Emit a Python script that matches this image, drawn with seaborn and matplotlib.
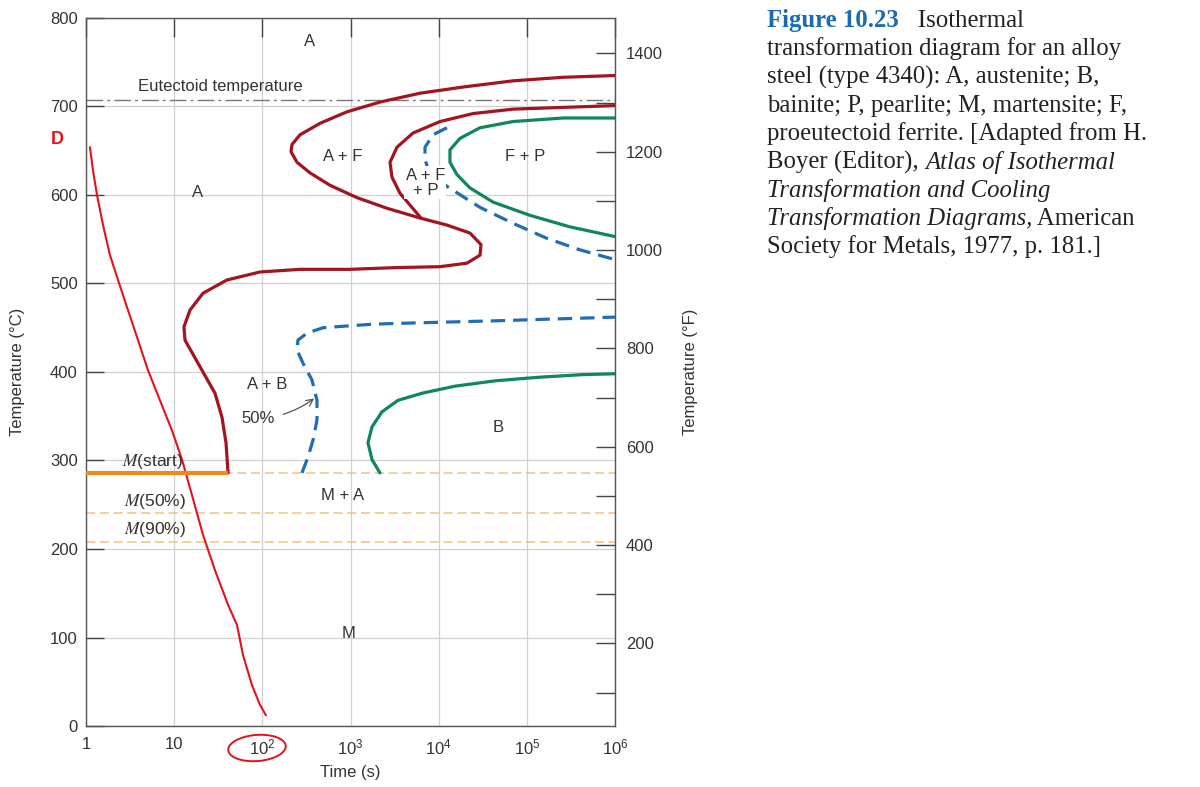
import numpy as np
import pandas as pd
import matplotlib
matplotlib.use("Agg")
import matplotlib.pyplot as plt
from matplotlib.patches import Ellipse
import seaborn as sns

# curve data: log10(time in s) and temperature in degC
outer_red_logt = [6.0, 5.410, 4.843, 4.276, 3.788, 3.334, 2.960, 2.654, 2.427, 2.336, 2.325, 2.393,
                  2.541, 2.767, 3.074, 3.414, 3.788, 4.094, 4.355, 4.480, 4.469, 4.321, 4.015, 3.527,
                  2.994, 2.427, 1.973, 1.599, 1.327, 1.180, 1.111, 1.123, 1.202, 1.327, 1.463,
                  1.542, 1.588, 1.611]
outer_red_temp = [735, 733, 729, 722, 715, 705, 694, 681, 668, 657, 649, 637,
                  625, 611, 597, 585, 574, 566, 557, 544, 532, 523, 519, 518,
                  516, 516, 513, 504, 489, 470, 451, 436, 422, 400, 376,
                  349, 320, 286]

inner_red_logt = [6.0, 5.410, 4.843, 4.389, 4.015, 3.709, 3.527, 3.448, 3.471, 3.561, 3.697, 3.795]
inner_red_temp = [701, 699, 697, 692, 683, 670, 654, 637, 620, 602, 586, 574.5]

blue_upper_logt = [4.094, 3.936, 3.845, 3.845, 3.902, 4.106, 4.469, 4.843, 5.229, 5.603, 6.0]
blue_upper_temp = [676, 668, 654, 640, 623, 609, 586, 568, 551, 538, 527]

green_upper_logt = [6.0, 5.410, 4.843, 4.469, 4.242, 4.128, 4.128, 4.208, 4.355, 4.616, 5.036, 5.489, 6.0]
green_upper_temp = [687, 687, 683, 676, 664, 651, 637, 623, 608, 592, 577, 564, 553]

blue_lower_logt = [2.450, 2.518, 2.575, 2.620, 2.620, 2.563, 2.461, 2.393, 2.404, 2.507, 2.688,
                   2.960, 3.255, 3.561, 4.695, 6.0]
blue_lower_temp = [286, 304, 323, 346, 368, 391, 410, 425, 436, 444, 450,
                   452, 454, 455, 458, 462]

green_lower_logt = [3.334, 3.244, 3.198, 3.244, 3.357, 3.539, 3.811, 4.185, 4.639, 5.126, 5.626, 6.0]
green_lower_temp = [286, 301, 320, 338, 355, 368, 376, 384, 390, 394, 397, 398]

cooling_logt = [0.045, 0.079, 0.125, 0.193, 0.272, 0.363, 0.476, 0.590, 0.703, 0.839, 0.975,
                1.089, 1.202, 1.327, 1.463, 1.611, 1.713, 1.781, 1.883, 1.973, 2.041]
cooling_temp = [654, 628, 600, 566, 532, 504, 470, 436, 402, 368, 334,
                301, 261, 216, 176, 137, 114, 80, 46, 24, 12]

eutectoid_temp = 707
m_start, m_50, m_90 = 286, 241, 208
m_start_end_logt = 1.611

x_ticks = [1, 10, 1e2, 1e3, 1e4, 1e5, 1e6]
x_labels = ["1", "10", r"$\mathdefault{10^2}$", r"$\mathdefault{10^3}$", r"$\mathdefault{10^4}$",
            r"$\mathdefault{10^5}$", r"$\mathdefault{10^6}$"]
c_ticks = list(range(0, 801, 100))
f_major = list(range(200, 1401, 200))
f_minor = list(range(100, 1401, 100))

regions = [("A", 2.54, 773), ("A + F", 2.91, 644), ("A", 1.26, 603),
           ("F + P", 4.98, 644), ("A + B", 2.06, 386), ("B", 4.68, 337), ("M + A", 2.91, 261),
           ("M", 2.98, 105)]

sns.set_style("white")
plt.rcParams["font.family"] = ["Liberation Sans", "DejaVu Sans"]
plt.rcParams["mathtext.fontset"] = "stix"

fig = plt.figure(figsize=(12, 7.87), dpi=100, facecolor="white")
ax = fig.add_axes([86 / 1200, 1 - 726 / 787, 529 / 1200, 708 / 787])

dark_red = "#a3141f"
green = "#10875a"
blue = "#1f6db3"
orange = "#ef8a1a"
light_orange = "#f3c27c"
txt = "#333333"


def curve(logt, temp, color, dashed=False, lw=2.3):
    d = pd.DataFrame({"t": 10 ** np.array(logt), "T": temp})
    kw = dict(linestyle=(0, (4.5, 2.5))) if dashed else {}
    sns.lineplot(data=d, x="t", y="T", sort=False, estimator=None, color=color, lw=lw, ax=ax,
                 solid_joinstyle="round", **kw)


# martensite lines
for temp in [m_start, m_50, m_90]:
    ax.axhline(temp, color=light_orange, lw=1.1, ls=(0, (6, 3)), zorder=2)
ax.plot([1, 10 ** m_start_end_logt], [m_start, m_start], color=orange, lw=3, zorder=3,
        solid_capstyle="butt")

# eutectoid
ax.axhline(eutectoid_temp, color="#777777", lw=1, ls=(0, (12, 3, 2, 3)), zorder=2)

curve(outer_red_logt, outer_red_temp, dark_red)
curve(inner_red_logt, inner_red_temp, dark_red)
curve(green_upper_logt, green_upper_temp, green)
curve(blue_upper_logt, blue_upper_temp, blue, dashed=True)
curve(blue_lower_logt, blue_lower_temp, blue, dashed=True)
curve(green_lower_logt, green_lower_temp, green)
curve(cooling_logt, cooling_temp, "#e8101a", lw=1.5)

ax.set_xscale("log")
ax.set_xlim(1, 1e6)
ax.set_ylim(0, 800)
ax.set_xticks(x_ticks)
ax.set_xticklabels(x_labels)
ax.xaxis.set_minor_locator(matplotlib.ticker.NullLocator())
ax.set_yticks(c_ticks)
ax.grid(True, color="#d0d0d0", lw=0.9)
ax.set_axisbelow(True)
ax.tick_params(axis="x", direction="in", length=14, width=1, color="#444444", top=True,
               labelsize=12, labelcolor=txt, pad=8)
ax.tick_params(axis="y", direction="in", length=13, width=1, color="#444444",
               labelsize=12, labelcolor=txt, pad=6)
for s in ax.spines.values():
    s.set_color("#555555")
    s.set_linewidth(1)
ax.set_xlabel("Time (s)", fontsize=12, color=txt, labelpad=6)
ax.set_ylabel("Temperature (°C)", fontsize=12, color=txt, labelpad=18)

ax2 = ax.twinx()
ax2.set_ylim(0 * 9 / 5 + 32, 800 * 9 / 5 + 32)
ax2.set_yticks(f_major)
ax2.set_yticks(f_minor, minor=True)
ax2.tick_params(axis="y", which="both", direction="in", length=14, width=1, color="#444444",
                labelsize=12, labelcolor=txt, pad=8)
ax2.set_ylabel("Temperature (°F)", fontsize=12, color=txt, labelpad=14)
for s in ax2.spines.values():
    s.set_visible(False)

# region labels
for label, lt, temp in regions:
    ax.text(10 ** lt, temp, label, ha="center", va="center", fontsize=12, color=txt)
ax.text(10 ** 3.85, 614, "A + F\n+ P", ha="center", va="center", fontsize=12, color=txt,
        linespacing=1.0, zorder=5,
        bbox=dict(facecolor="white", edgecolor="none", pad=1))
ax.text(10 ** 1.52, 723, "Eutectoid temperature", ha="center", va="center", fontsize=12, color=txt)
ax.text(10 ** 0.75, 299, r"$M$(start)", ha="center", va="center", fontsize=12.5, color=txt)
ax.text(10 ** 0.78, 254, r"$M$(50%)", ha="center", va="center", fontsize=12.5, color=txt)
ax.text(10 ** 0.78, 222, r"$M$(90%)", ha="center", va="center", fontsize=12.5, color=txt)
ax.annotate("50%", xy=(10 ** 2.60, 371), xytext=(10 ** 1.95, 347), ha="center", va="center",
            fontsize=12, color=txt,
            arrowprops=dict(arrowstyle="->", color="#555555", lw=0.9,
                            connectionstyle="arc3,rad=0.15", shrinkA=4, shrinkB=1))

# hand drawn marks
fig.patches.append(Ellipse((257 / 1200, 1 - 748 / 787), 58 / 1200, 26 / 787, angle=10,
                           transform=fig.transFigure, fill=False, ec="#e8101a", lw=1.4))
fig.text(57 / 1200, 1 - 140 / 787, "D", color="#e8101a", fontsize=13, ha="center",
         va="center", fontweight="bold")

# caption
renderer = fig.canvas.get_renderer()
serif = ["Liberation Serif", "DejaVu Serif"]


def caption_line(y_px, pieces):
    x = 767 / 1200
    y = 1 - y_px / 787
    for s, kw in pieces:
        opts = dict(va="baseline", ha="left", fontsize=17.8, family=serif, color="#222222")
        opts.update(kw)
        t = fig.text(x, y, s, **opts)
        bb = t.get_window_extent(renderer=renderer)
        x = fig.transFigure.inverted().transform((bb.x1, bb.y0))[0]


caption_line(27, [("Figure 10.23", dict(fontweight="bold", color="#1a6bb0")), ("   Isothermal", {})])
caption_line(55, [("transformation diagram for an alloy", {})])
caption_line(84, [("steel (type 4340): A, austenite; B,", {})])
caption_line(112, [("bainite; P, pearlite; M, martensite; F,", {})])
caption_line(140, [("proeutectoid ferrite. [Adapted from H.", {})])
caption_line(169, [("Boyer (Editor), ", {}), ("Atlas of Isothermal", dict(style="italic"))])
caption_line(197, [("Transformation and Cooling", dict(style="italic"))])
caption_line(225, [("Transformation Diagrams,", dict(style="italic")), (" American", {})])
caption_line(253, [("Society for Metals, 1977, p. 181.]", {})])

fig.savefig("out.png", dpi=100, facecolor="white")
